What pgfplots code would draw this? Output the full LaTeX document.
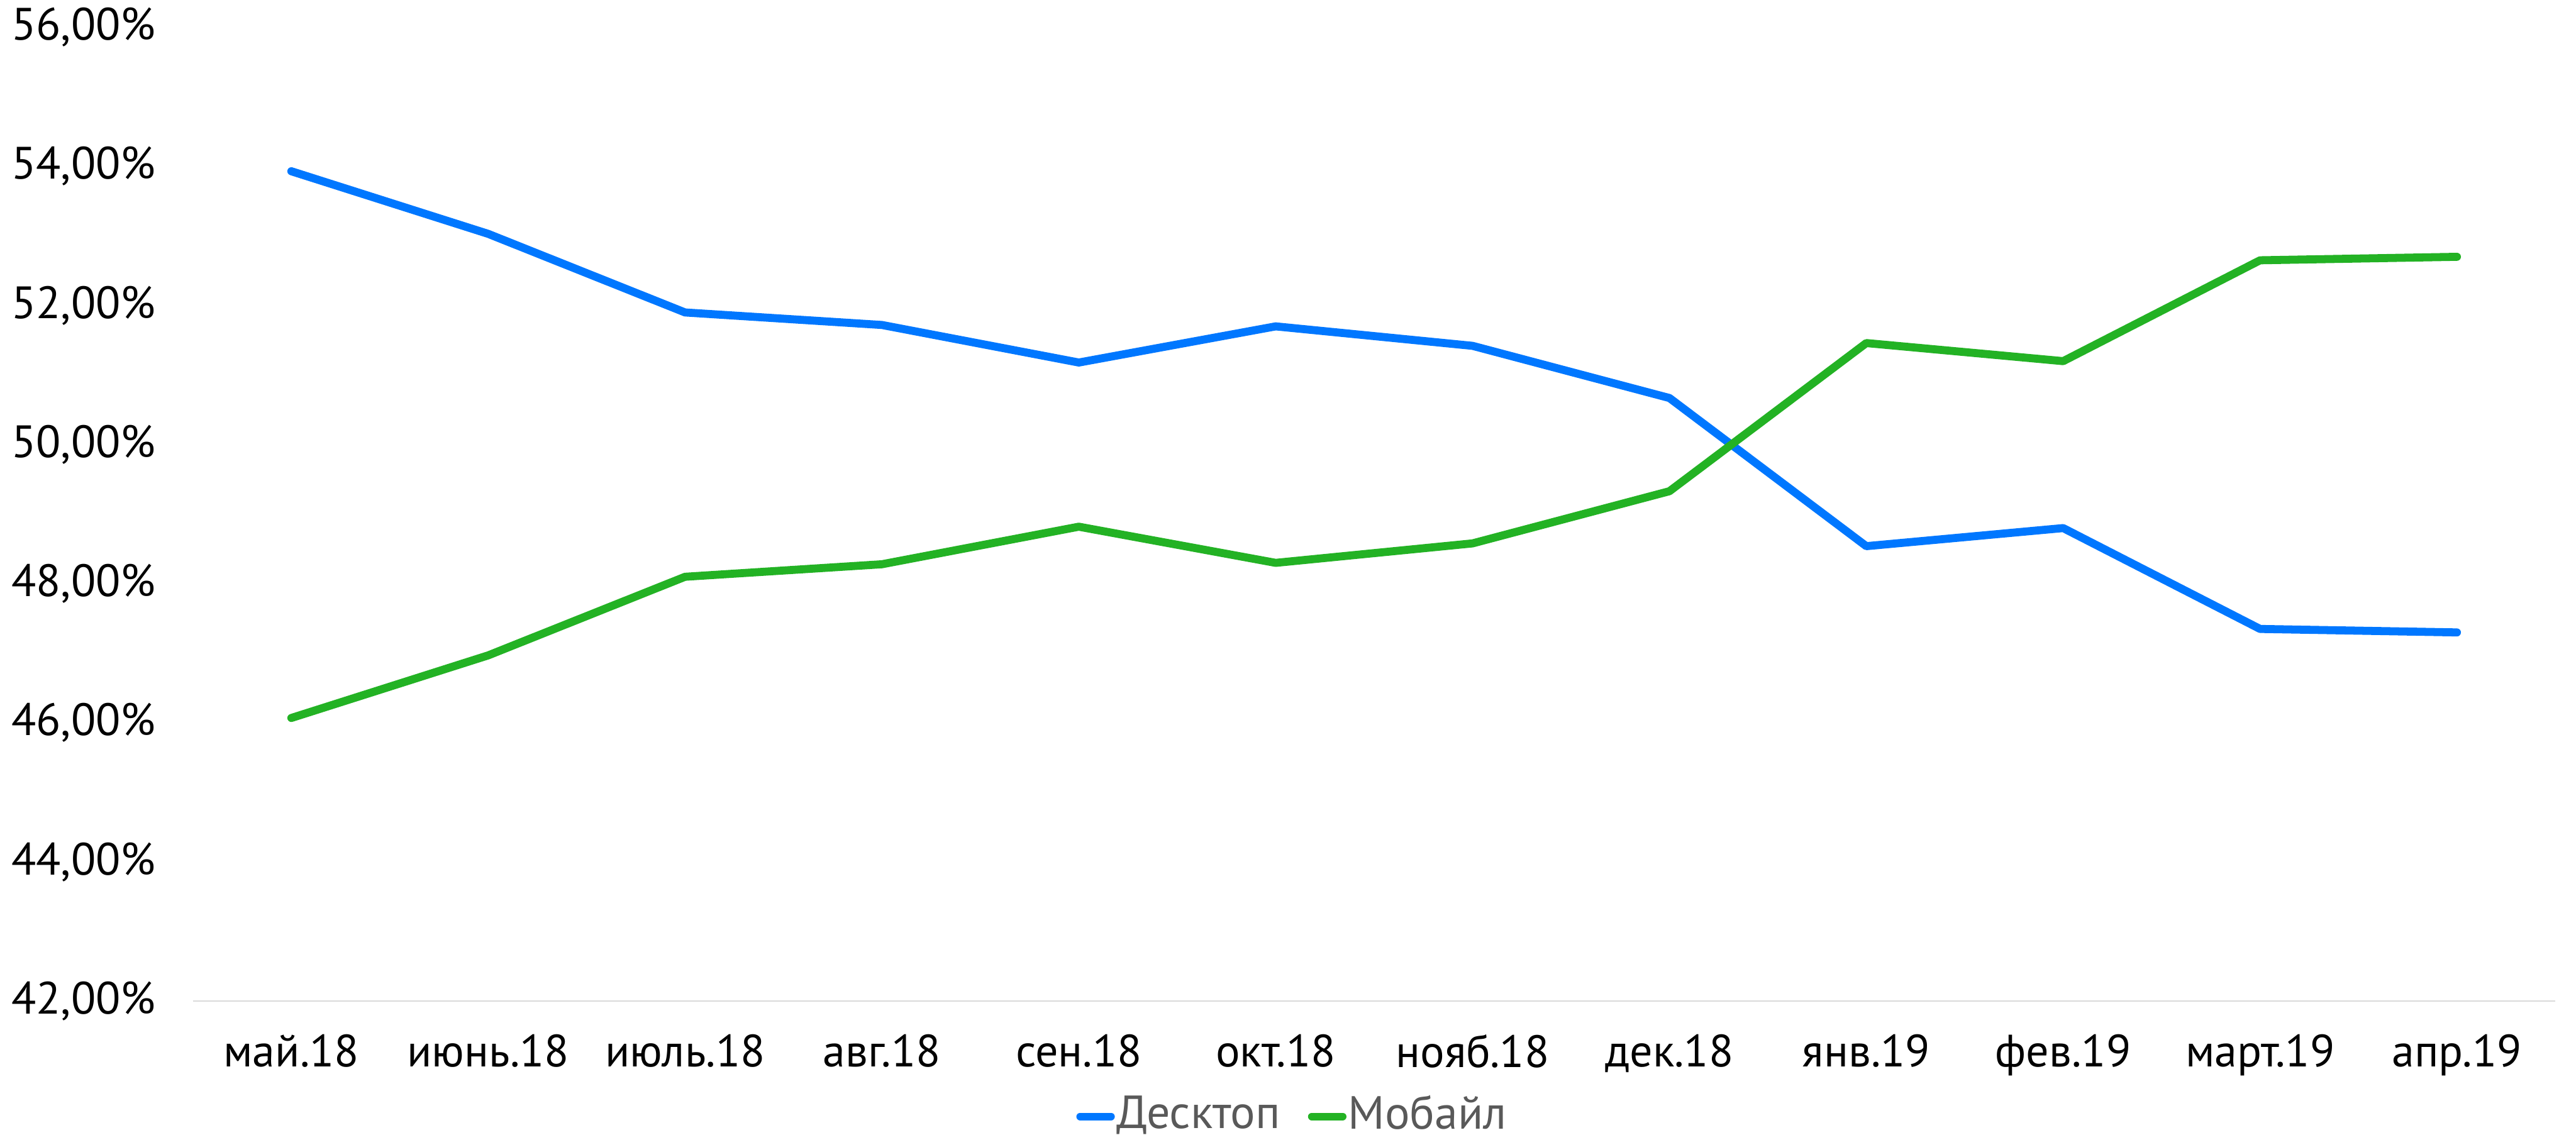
\documentclass[border=0pt]{standalone}
\usepackage{pgfplots}
\pgfplotsset{compat=1.18}
\usepackage{fontspec}
\setmainfont{PT Sans}
\definecolor{cblue}{HTML}{0077FF}
\definecolor{cgreen}{HTML}{23B224}
\definecolor{cbase}{HTML}{D9D9D9}
\definecolor{clegend}{HTML}{595959}
\begin{document}
\begin{tikzpicture}
\begin{axis}[
  at={(33.6pt,24.1pt)}, anchor=south west,
  scale only axis,
  width=411.5pt, height=169.65pt,
  xmin=-0.5, xmax=11.5,
  ymin=42, ymax=56,
  xtick={0,...,11},
  xticklabels={май.18,июнь.18,июль.18,авг.18,сен.18,окт.18,нояб.18,дек.18,янв.19,фев.19,март.19,апр.19},
  ytick={42,44,...,56},
  yticklabels={{42,00\%},{44,00\%},{46,00\%},{48,00\%},{50,00\%},{52,00\%},{54,00\%},{56,00\%}},
  major tick length=0pt,
  axis x line*=bottom,
  axis y line*=left,
  x axis line style={draw=cbase, line width=0.3pt},
  y axis line style={draw=none},
  tick label style={font=\fontsize{7.9}{9}\selectfont, text=black},
  yticklabel style={anchor=east, inner sep=0pt, xshift=-6.3pt},
  xticklabel style={anchor=north, inner sep=0pt, yshift=-5.6pt},
  legend columns=2,
  legend style={at={(0.4654,-0.1185)}, anchor=center, draw=none, fill=none,
    font=\fontsize{8.1}{9}\selectfont, text=clegend,
    nodes={inner xsep=0.3pt, inner ysep=1pt},
    /tikz/every even column/.append style={column sep=4.5pt},
    inner sep=0pt},
  legend image code/.code={\draw[#1, line width=1.3pt, line cap=round] (0pt,0pt) -- (5.4pt,0pt);},
  legend cell align=left,
]
\addplot[cblue, line width=1.4pt, line cap=round, line join=round] coordinates {
(0,53.93) (1,53.03) (2,51.90) (3,51.72) (4,51.18) (5,51.70) (6,51.42) (7,50.67) (8,48.54) (9,48.80) (10,47.35) (11,47.30)};
\addlegendentry{Десктоп}
\addplot[cgreen, line width=1.4pt, line cap=round, line join=round] coordinates {
(0,46.07) (1,46.97) (2,48.10) (3,48.28) (4,48.82) (5,48.30) (6,48.58) (7,49.33) (8,51.46) (9,51.20) (10,52.65) (11,52.70)};
\addlegendentry{Мобайл}
\end{axis}
\pgfresetboundingbox
\path (0,0) rectangle (448.7pt,198.5pt);
\end{tikzpicture}
\end{document}
